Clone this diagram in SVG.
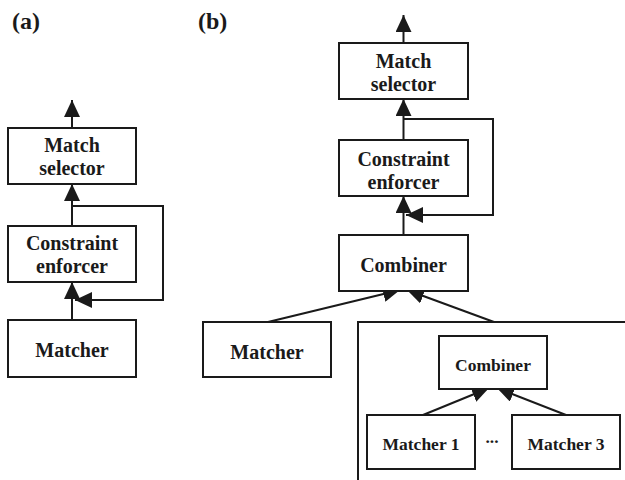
<svg xmlns="http://www.w3.org/2000/svg" width="625" height="480" viewBox="0 0 625 480">
<style>
.box{fill:#fff;stroke:#1a1a1a;stroke-width:2}
.t{font-family:"Liberation Serif","Times New Roman",serif;font-weight:bold;font-size:20px;fill:#1a1a1a;text-anchor:middle}
.s{font-size:17.5px}
.lbl{font-family:"Liberation Serif","Times New Roman",serif;font-weight:bold;font-size:24px;fill:#1a1a1a}
.c{fill:none;stroke:#1a1a1a;stroke-width:2}
</style>
<defs>
<marker id="ah" markerUnits="userSpaceOnUse" markerWidth="17" markerHeight="16" refX="17" refY="8" orient="auto" viewBox="0 0 17 16">
<path d="M0,0 L17,8 L0,16 z" fill="#1a1a1a"/>
</marker>
</defs>
<text class="lbl" x="12" y="29">(a)</text>
<text class="lbl" x="198" y="29">(b)</text>
<g id="connectors">
<line class="c" x1="72" y1="128" x2="72" y2="100" marker-end="url(#ah)"/>
<line class="c" x1="72" y1="226" x2="72" y2="184" marker-end="url(#ah)"/>
<polyline class="c" points="72,206 163,206 163,300 75,300" marker-end="url(#ah)"/>
<line class="c" x1="72" y1="320" x2="72" y2="282" marker-end="url(#ah)"/>
<line class="c" x1="403.5" y1="43" x2="403.5" y2="15" marker-end="url(#ah)"/>
<line class="c" x1="403.5" y1="140" x2="403.5" y2="99" marker-end="url(#ah)"/>
<polyline class="c" points="403.5,119 493,119 493,215 406,215" marker-end="url(#ah)"/>
<line class="c" x1="403.5" y1="235" x2="403.5" y2="196" marker-end="url(#ah)"/>
<line class="c" x1="268" y1="322" x2="400" y2="290" marker-end="url(#ah)"/>
<line class="c" x1="494" y1="322" x2="407" y2="290" marker-end="url(#ah)"/>
<polyline class="c" points="358,480 358,322 625,322"/>
<line class="c" x1="423" y1="415" x2="489" y2="388" marker-end="url(#ah)"/>
<line class="c" x1="566" y1="415" x2="497" y2="388" marker-end="url(#ah)"/>
</g>
<g id="a-match-selector"><rect class="box" x="8" y="128" width="128" height="56"/><text class="t" x="72" y="152">Match</text><text class="t" x="72" y="175">selector</text></g>
<g id="a-constraint-enforcer"><rect class="box" x="8" y="226" width="128" height="56"/><text class="t" x="72" y="250">Constraint</text><text class="t" x="72" y="273">enforcer</text></g>
<g id="a-matcher"><rect class="box" x="8" y="320" width="128" height="57"/><text class="t" x="72" y="357">Matcher</text></g>
<g id="b-match-selector"><rect class="box" x="339" y="43" width="129" height="56"/><text class="t" x="403.5" y="68">Match</text><text class="t" x="403.5" y="91">selector</text></g>
<g id="b-constraint-enforcer"><rect class="box" x="339" y="140" width="129" height="56"/><text class="t" x="403.5" y="166">Constraint</text><text class="t" x="403.5" y="189">enforcer</text></g>
<g id="b-combiner"><rect class="box" x="339" y="235" width="129" height="56"/><text class="t" x="403.5" y="272">Combiner</text></g>
<g id="b-matcher"><rect class="box" x="203" y="322" width="128" height="55"/><text class="t" x="267" y="359">Matcher</text></g>
<g id="b-inner-combiner"><rect class="box" x="439" y="336" width="108" height="53"/><text class="t s" x="493" y="371">Combiner</text></g>
<g id="b-matcher1"><rect class="box" x="367" y="415" width="108" height="54"/><text class="t s" x="421" y="450">Matcher 1</text></g>
<g id="b-dots"><text class="t s" x="492" y="443">...</text></g>
<g id="b-matcher3"><rect class="box" x="512" y="415" width="108" height="54"/><text class="t s" x="566" y="450">Matcher 3</text></g>
</svg>
